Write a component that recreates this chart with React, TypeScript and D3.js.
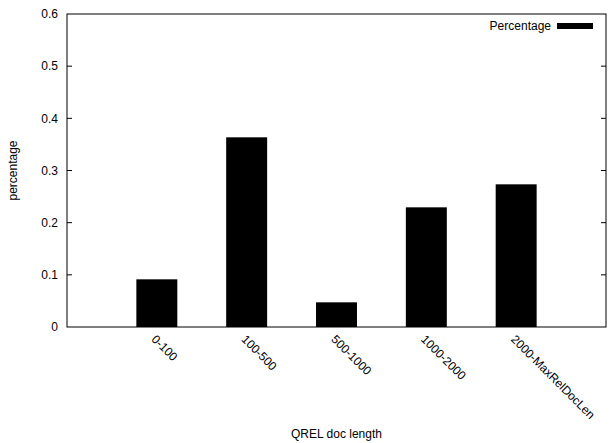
import { useRef, useEffect } from "react";
import * as d3 from "d3";

const categories = ["0-100", "100-500", "500-1000", "1000-2000", "2000-MaxRelDocLen"];
const percentages = [0.0914, 0.3636, 0.0473, 0.2294, 0.2735];
const yTicks = [0, 0.1, 0.2, 0.3, 0.4, 0.5, 0.6];

const W = 613;
const H = 443;
const margin = { left: 67, right: 7, top: 14, bottom: 116 };

const App = () => {
  const svgRef = useRef<SVGSVGElement>(null);

  useEffect(() => {
    const svg = d3.select(svgRef.current);
    svg.selectAll("*").remove();

    const font = "'Liberation Sans', Arial, sans-serif";
    const fs = 12;
    const x0 = margin.left, x1 = W - margin.right;
    const y0 = H - margin.bottom, y1 = margin.top;

    // categories sit at 0..n-1, the axis runs from -1 to n
    const x = d3.scaleLinear().domain([-1, categories.length]).range([x0, x1]);
    const y = d3.scaleLinear().domain([0, 0.6]).range([y0, y1]);
    const boxW = 0.456;

    // bars
    svg.selectAll(".bar")
      .data(percentages)
      .join("rect")
      .attr("class", "bar")
      .attr("x", (_, i) => x(i - boxW / 2))
      .attr("width", x(boxW) - x(0))
      .attr("y", d => y(d))
      .attr("height", d => y0 - y(d))
      .attr("fill", "#000");

    // y ticks, mirrored on the right
    const yt = svg.append("g");
    yTicks.forEach(t => {
      if (t > 0 && t < 0.6) {
        yt.append("line").attr("x1", x0).attr("x2", x0 + 5).attr("y1", y(t)).attr("y2", y(t)).attr("stroke", "#000");
        yt.append("line").attr("x1", x1).attr("x2", x1 - 5).attr("y1", y(t)).attr("y2", y(t)).attr("stroke", "#000");
      }
      yt.append("text")
        .attr("x", x0 - 9)
        .attr("y", y(t))
        .attr("dy", "0.35em")
        .attr("text-anchor", "end")
        .attr("font-family", font)
        .attr("font-size", fs)
        .attr("fill", "#000")
        .text(t === 0 ? "0" : String(t));
    });

    // x tick labels, rotated
    svg.selectAll(".xl")
      .data(categories)
      .join("text")
      .attr("class", "xl")
      .attr("transform", (_, i) => `translate(${x(i) - 3},${y0 + 10}) rotate(45)`)
      .attr("dy", "0.35em")
      .attr("font-family", font)
      .attr("font-size", fs)
      .attr("fill", "#000")
      .text(d => d);

    // frame
    svg.append("rect")
      .attr("x", x0).attr("y", y1)
      .attr("width", x1 - x0).attr("height", y0 - y1)
      .attr("fill", "none").attr("stroke", "#000").attr("stroke-width", 1);

    // axis titles
    svg.append("text")
      .attr("transform", `translate(17,${(y0 + y1) / 2}) rotate(-90)`)
      .attr("text-anchor", "middle")
      .attr("font-family", font)
      .attr("font-size", fs)
      .text("percentage");

    svg.append("text")
      .attr("x", (x0 + x1) / 2)
      .attr("y", 438)
      .attr("text-anchor", "middle")
      .attr("font-family", font)
      .attr("font-size", fs)
      .text("QREL doc length");

    // legend
    svg.append("text")
      .attr("x", 551).attr("y", 26)
      .attr("dy", "0.35em")
      .attr("text-anchor", "end")
      .attr("font-family", font)
      .attr("font-size", fs)
      .text("Percentage");
    svg.append("rect")
      .attr("x", 557).attr("y", 23).attr("width", 36).attr("height", 6)
      .attr("fill", "#000");
  }, []);

  return (
    <svg
      ref={svgRef}
      width={W}
      height={H}
      style={{ position: "absolute", left: 0, top: 0, background: "#fff" }}
    />
  );
};

export default App;
